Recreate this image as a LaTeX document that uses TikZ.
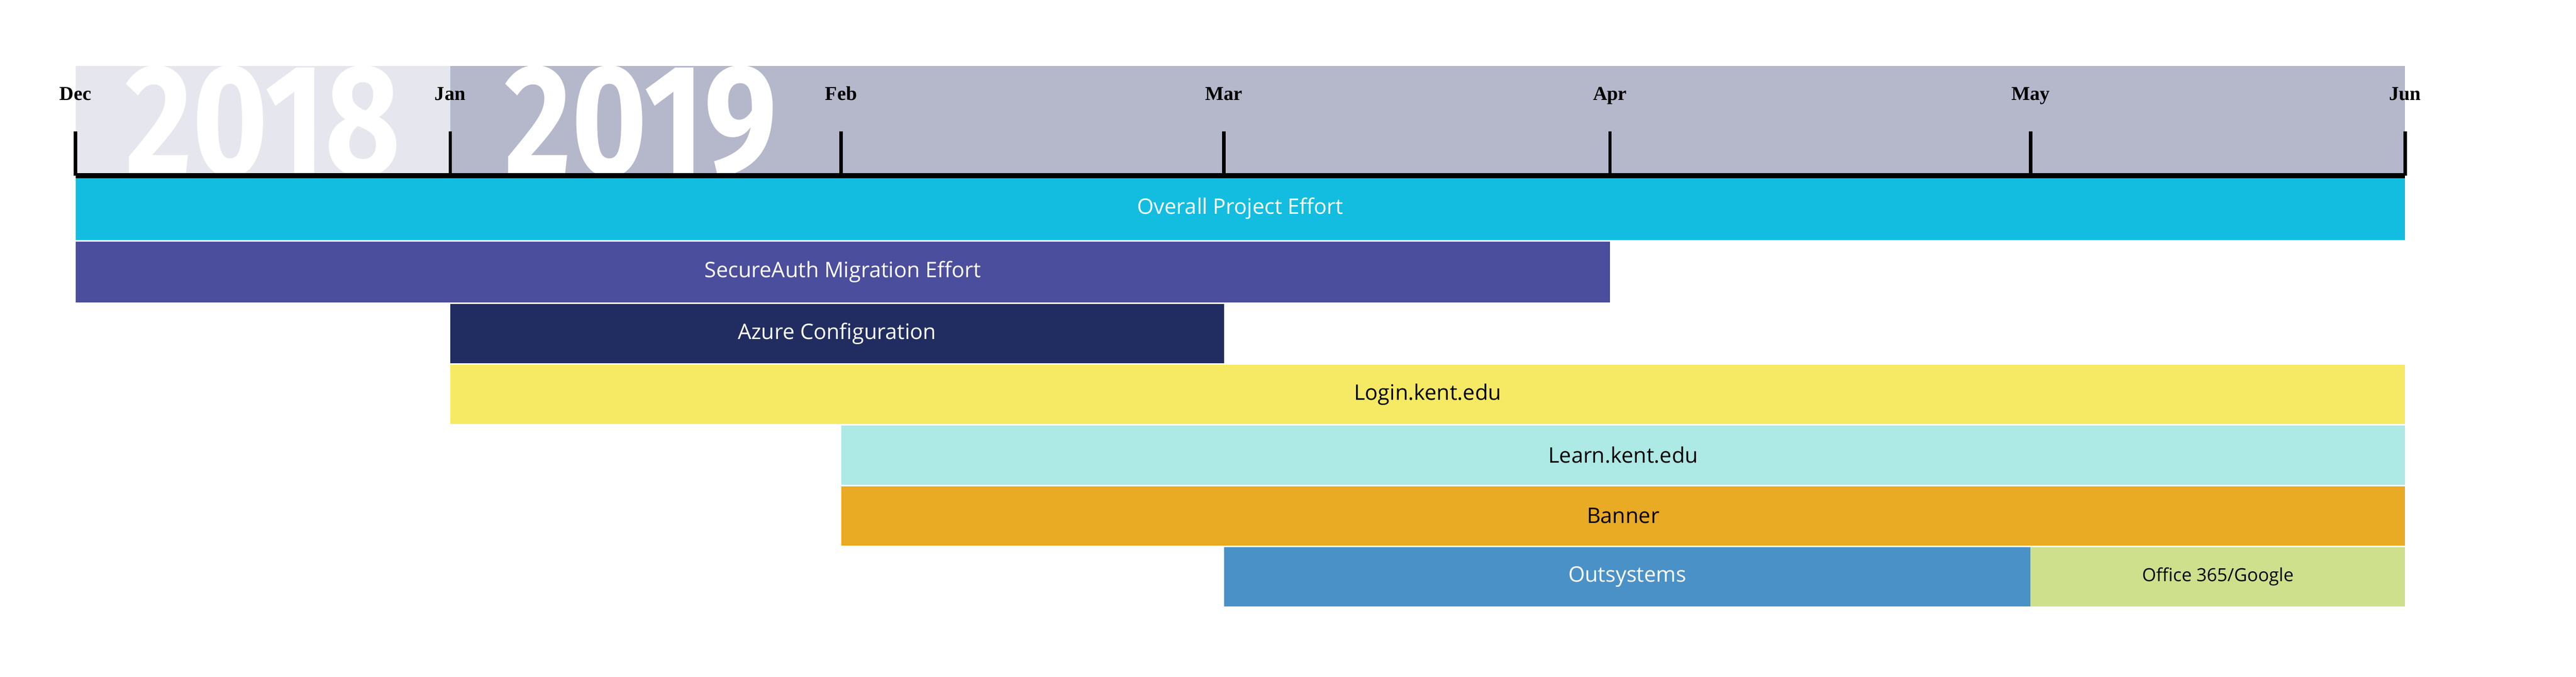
\documentclass[tikz,border=0pt]{standalone}
\usepackage{fontspec}
\setmainfont{Open Sans}
\newfontfamily\monthfont{Liberation Serif}
\newfontfamily\yearfont{Fira Sans}
\definecolor{lightband}{HTML}{E6E7EE}
\definecolor{darkband}{HTML}{B5B8CB}
\definecolor{cOverall}{HTML}{12BDDF}
\definecolor{cSecure}{HTML}{4B4D9D}
\definecolor{cAzure}{HTML}{212D60}
\definecolor{cLogin}{HTML}{F6EA65}
\definecolor{cLearn}{HTML}{ADE9E5}
\definecolor{cBanner}{HTML}{E9AA24}
\definecolor{cOut}{HTML}{4A91C8}
\definecolor{cOffice}{HTML}{CEE08C}
\begin{document}
\begin{tikzpicture}[x=1pt,y=-1pt,
  bar/.style={draw=none,inner sep=0,text=#1},
  month/.style={font=\monthfont\bfseries\fontsize{12}{12}\selectfont,anchor=base},
  yr/.style={font=\yearfont\bfseries\fontsize{96}{96}\selectfont,text=white,anchor=base,inner sep=0},
  lbl/.style={font=\fontsize{13}{13}\selectfont}]
\useasboundingbox (0,0) rectangle (1568,412);
\fill[lightband] (46,40) rectangle (274,107);
\fill[darkband] (274,40) rectangle (1464,107);
\begin{scope}
\clip (46,40) rectangle (1464,107);
\node[yr,xscale=0.82] (y18) at (160,106) {2018};
\node[yr,xscale=0.82] (y19) at (390,106) {2019};
\end{scope}
\def\bar#1#2#3#4#5#6#7{%
  \fill[#5] (#1,#3) rectangle (#2,#4);
  \node[lbl,text=#6] (#7) at ({(#1+#2)/2},{(#3+#4)/2}) {};}
\fill[cOverall] (46,108) rectangle (1464,146);
\node[lbl,text=white] (b1) at (755,127) {Overall Project Effort};
\fill[cSecure] (46,147) rectangle (980,184);
\node[lbl,text=white] (b2) at (513,165.5) {SecureAuth Migration Effort};
\fill[cAzure] (274,185) rectangle (745,221);
\node[lbl,text=white] (b3) at (509.5,203) {Azure Configuration};
\fill[cLogin] (274,222) rectangle (1464,258);
\node[lbl,text=black] (b4) at (869,240) {Login.kent.edu};
\fill[cLearn] (512,259) rectangle (1464,295);
\node[lbl,text=black] (b5) at (988,277) {Learn.kent.edu};
\fill[cBanner] (512,296) rectangle (1464,332);
\node[lbl,text=black] (b6) at (988,314) {Banner};
\fill[cOut] (745,333) rectangle (1236,369);
\node[lbl,text=white] (b7) at (990.5,351) {Outsystems};
\fill[cOffice] (1236,333) rectangle (1464,369);
\node[font=\fontsize{11}{11}\selectfont] (b8) at (1350,351) {Office 365/Google};
\draw[line width=3pt] (46,107) -- (1464,107);
\foreach \x/\m [count=\i] in {46/Dec,274/Jan,512/Feb,745/Mar,980/Apr,1236/May,1464/Jun}{
  \draw[line width=2pt] (\x,80) -- (\x,107);
  \node[month] (m\i) at (\x,61) {\m};
}
\end{tikzpicture}
\end{document}
